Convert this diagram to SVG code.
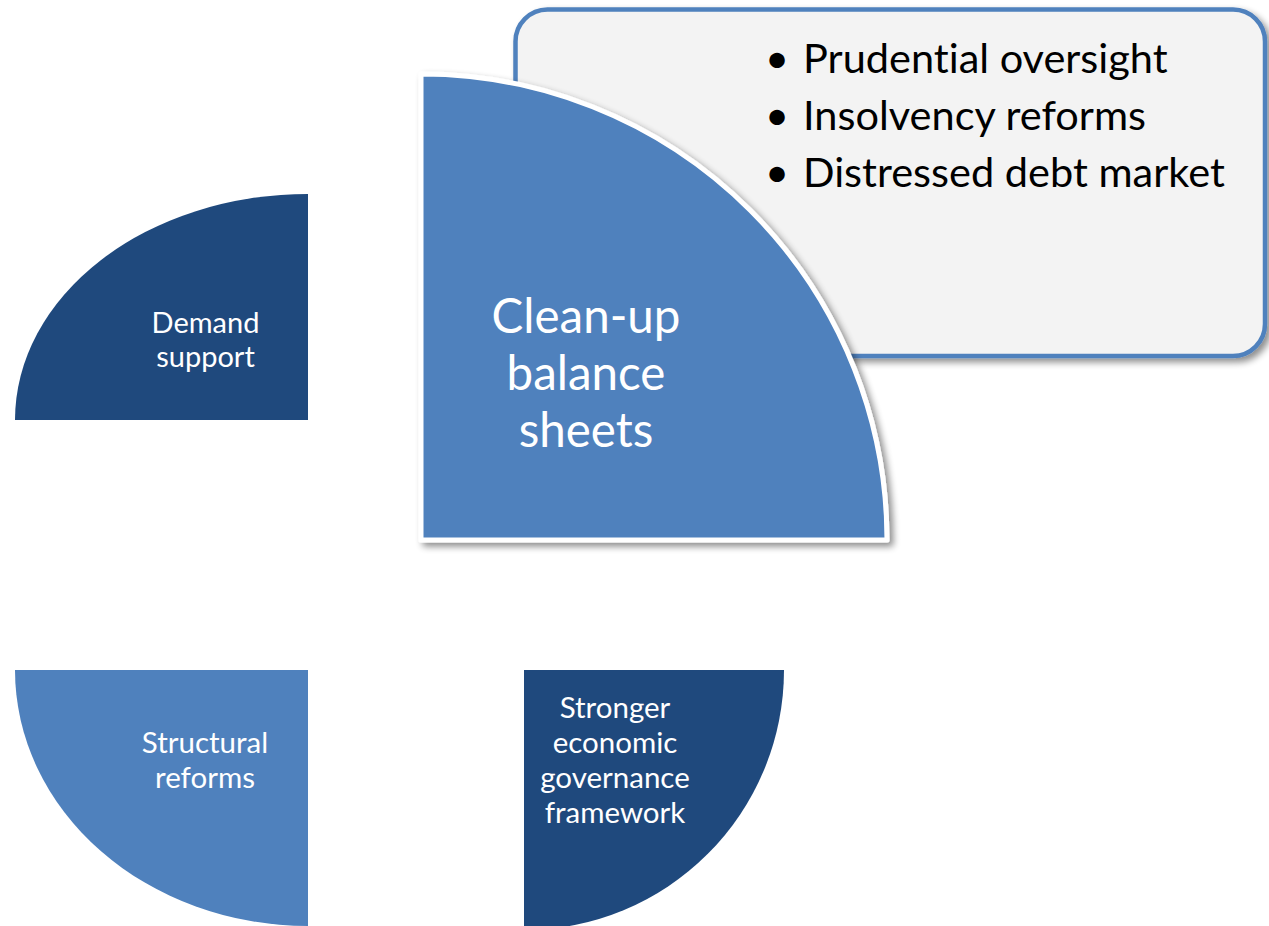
<svg xmlns="http://www.w3.org/2000/svg" width="1269" height="926" viewBox="0 0 1269 926">
  <defs>
    <filter id="shadow" x="-10%" y="-10%" width="125%" height="125%">
      <feGaussianBlur in="SourceAlpha" stdDeviation="3.5"/>
      <feOffset dx="4" dy="4" result="blur"/>
      <feComponentTransfer><feFuncA type="linear" slope="0.45"/></feComponentTransfer>
      <feMerge><feMergeNode/><feMergeNode in="SourceGraphic"/></feMerge>
    </filter>
  </defs>
  <style>
    text { font-variant-ligatures: none; }
    .dark { fill: #1f497d; }
    .mid { fill: #4f81bd; }
    .label { font-family: Lato, "Liberation Sans", sans-serif; fill: #ffffff; text-anchor: middle; }
    .bullet { font-family: Lato, "Liberation Sans", sans-serif; fill: #000000; font-size: 41.5px; }
  </style>

  <!-- callout with the detail list -->
  <g id="callout">
    <rect x="515.5" y="9.5" width="749.5" height="346.5" rx="32" ry="32" fill="#f3f3f3" stroke="#4f81bd" stroke-width="4.5" filter="url(#shadow)"/>
    <text class="bullet" x="777" y="73" text-anchor="middle">•</text>
    <text class="bullet" x="803" y="73">Prudential oversight</text>
    <text class="bullet" x="777" y="130" text-anchor="middle">•</text>
    <text class="bullet" x="803" y="130">Insolvency reforms</text>
    <text class="bullet" x="777" y="187" text-anchor="middle">•</text>
    <text class="bullet" x="803" y="187">Distressed debt market</text>
  </g>

  <!-- main quadrant -->
  <g id="clean-up">
    <path d="M421,540 L421,74 A466,466 0 0 1 887,540 Z" class="mid" stroke="#ffffff" stroke-width="5" stroke-linejoin="round" filter="url(#shadow)"/>
    <text class="label" font-size="47.5"><tspan x="586" y="333">Clean-up</tspan><tspan x="586" y="390">balance</tspan><tspan x="586" y="447">sheets</tspan></text>
  </g>

  <g id="demand-support">
    <path d="M308,420 L15,420 A293,226 0 0 1 308,194 Z" class="dark"/>
    <text class="label" font-size="29"><tspan x="205.5" y="333">Demand</tspan><tspan x="205.5" y="367">support</tspan></text>
  </g>

  <g id="structural-reforms">
    <path d="M308,670 L308,926 A293,256 0 0 1 15,670 Z" class="mid"/>
    <text class="label" font-size="29.5"><tspan x="205" y="753">Structural</tspan><tspan x="205" y="788">reforms</tspan></text>
  </g>

  <g id="governance">
    <path d="M524,670 L784,670 A260,260 0 0 1 524,930 Z" class="dark"/>
    <text class="label" font-size="29.5"><tspan x="615" y="718">Stronger</tspan><tspan x="615" y="753">economic</tspan><tspan x="615" y="788">governance</tspan><tspan x="615" y="823">framework</tspan></text>
  </g>

  <g id="connectors"></g>
</svg>
